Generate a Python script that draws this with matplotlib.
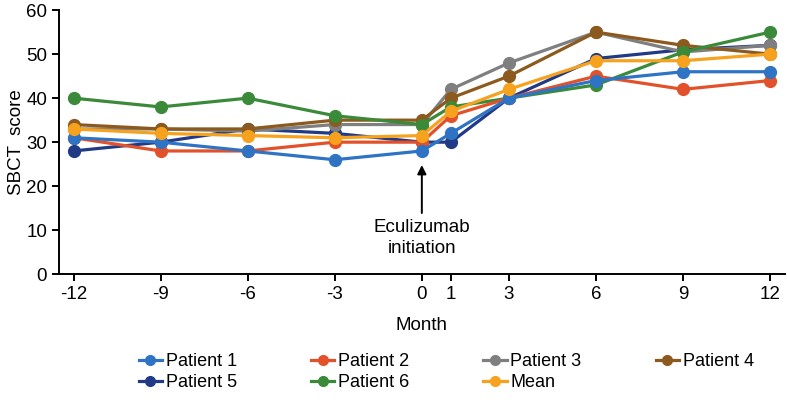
import matplotlib
matplotlib.use('Agg')
import matplotlib.pyplot as plt
from matplotlib.lines import Line2D

plt.rcParams['font.family'] = ['Liberation Sans', 'DejaVu Sans']

months = [-12, -9, -6, -3, 0, 1, 3, 6, 9, 12]
p1 = [31, 30, 28, 26, 28, 32, 40, 44, 46, 46]
p2 = [31, 28, 28, 30, 30, 36, 40, 45, 42, 44]
p3 = [33, 33, 32.5, 34, 34, 42, 48, 55, 50.5, 52]
p4 = [34, 33, 33, 35, 35, 40, 45, 55, 52, 50]
p5 = [28, 30, 33, 32, 30, 30, 40, 49, 51, 52]
p6 = [40, 38, 40, 36, 34, 38, 40, 43, 50.5, 55]
mean = [33, 32, 31.5, 31, 31.5, 37, 42, 48.5, 48.5, 50]

names = ['Patient 1', 'Patient 2', 'Patient 3', 'Patient 4', 'Patient 5', 'Patient 6', 'Mean']
colors = ['#2f73c4', '#e2512a', '#7f7f7f', '#8c5a1e', '#213a86', '#3b8a3a', '#f7a21e']
series = [p1, p2, p3, p4, p5, p6, mean]

fig = plt.figure(figsize=(7.87, 4.05), dpi=100)
ax = fig.add_axes([0.075, 0.323, 0.922, 0.652])

# draw order so overlapping markers look like the original
order = [4, 2, 3, 5, 1, 0, 6]
for i in order:
    ax.plot(months, series[i], color=colors[i], lw=2.3, marker='o', ms=8.5, zorder=3 + order.index(i))

ax.set_xlim(-12.5, 12.5)
ax.set_ylim(0, 60)
ax.set_xticks(months)
ax.set_xticklabels([str(m) for m in months])
ax.set_yticks(range(0, 61, 10))
ax.spines['top'].set_visible(False)
ax.spines['right'].set_visible(False)
ax.spines['left'].set_linewidth(1.4)
ax.spines['bottom'].set_linewidth(1.4)
ax.tick_params(labelsize=13.5, width=1.4, length=5)
ax.set_ylabel('SBCT  score', fontsize=13.5, labelpad=1)
ax.set_xlabel('Month', fontsize=13.5, labelpad=10)

ax.annotate('', xy=(0, 24.8), xytext=(0, 13.9),
            arrowprops=dict(arrowstyle='-|>', color='black', lw=1.4, mutation_scale=13,
                            shrinkA=0, shrinkB=0))
ax.text(0, 12.6, 'Eculizumab\ninitiation', ha='center', va='top', fontsize=13.5, linespacing=1.3)

handles = [Line2D([], [], color=c, lw=2.3, marker='o', ms=7) for c in colors]
lo = [0, 4, 1, 5, 2, 6, 3]
fig.legend([handles[k] for k in lo], [names[k] for k in lo], ncol=4,
           loc='upper center', bbox_to_anchor=(0.567, 0.168), frameon=False,
           fontsize=13, handlelength=1.3, handletextpad=0.2, columnspacing=4.1,
           labelspacing=0.2)

fig.savefig('out.png', dpi=100)
